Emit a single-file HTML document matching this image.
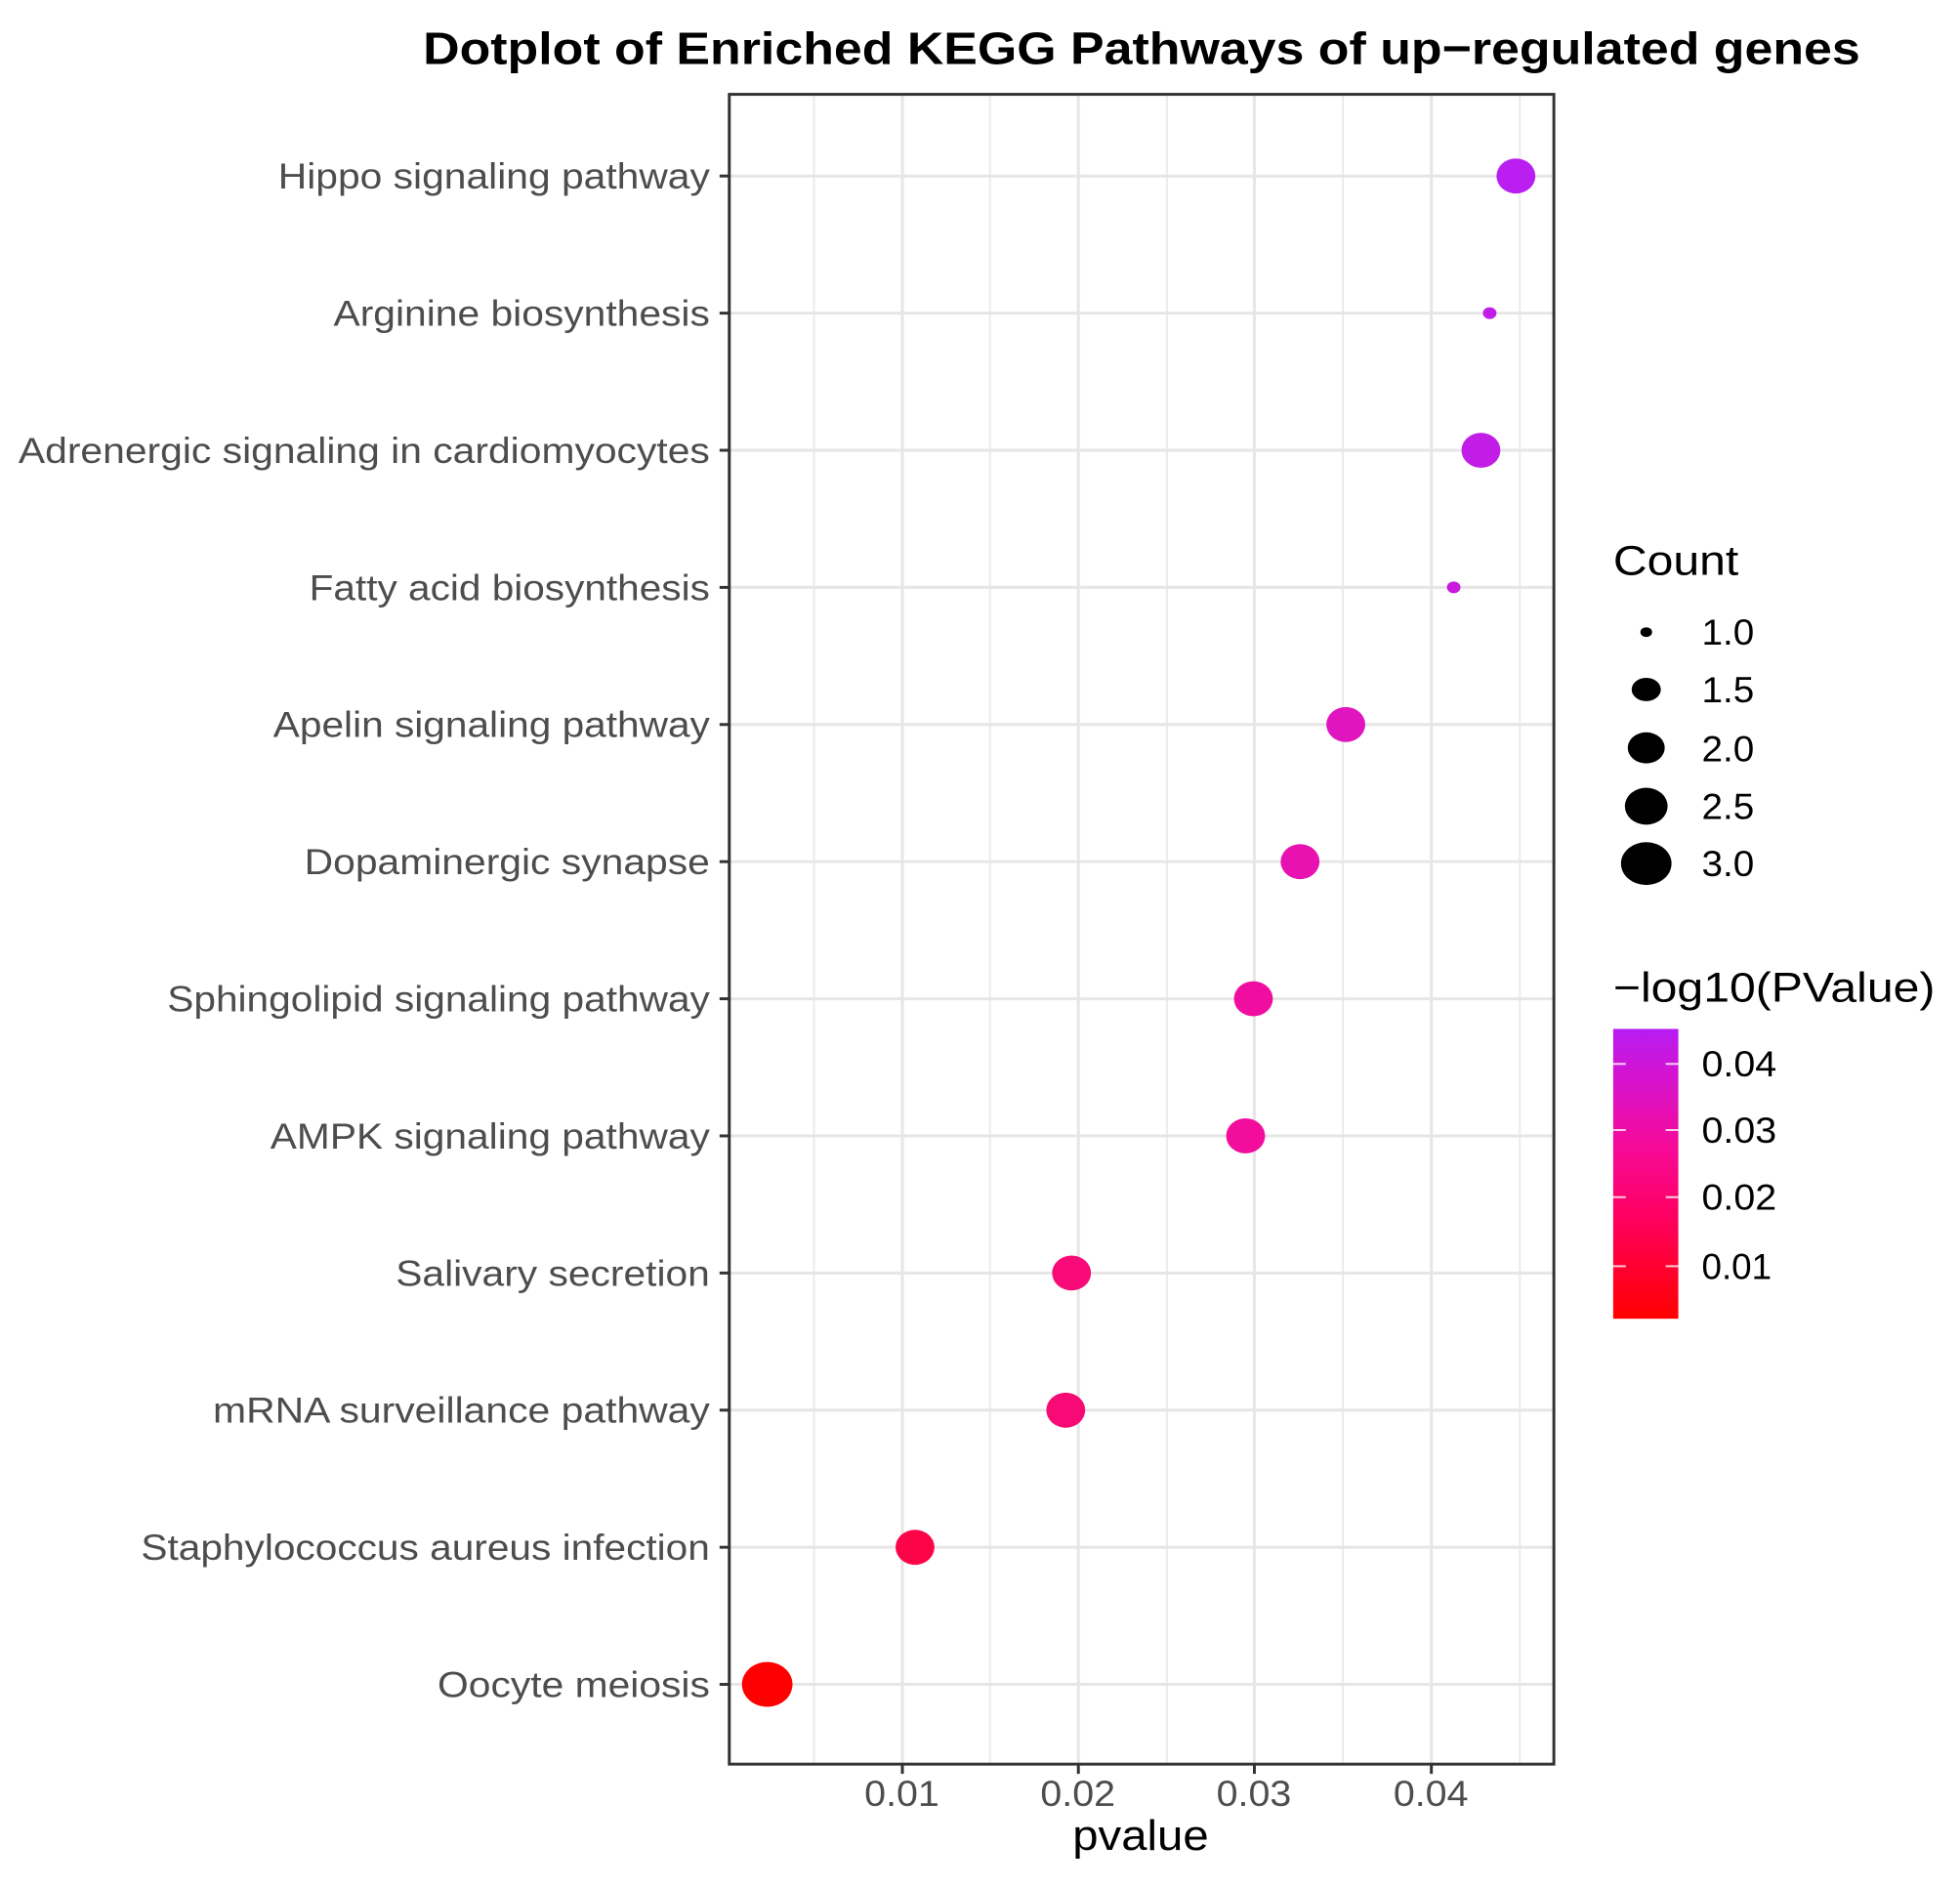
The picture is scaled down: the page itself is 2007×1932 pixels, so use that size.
<!DOCTYPE html>
<html><head><meta charset="utf-8"><style>
html,body{margin:0;padding:0;background:#fff}
svg{display:block}
text{font-family:"Liberation Sans",Arial,sans-serif}
</style></head><body>
<svg width="2007" height="1932" viewBox="0 0 2007 1932" xmlns="http://www.w3.org/2000/svg">
<defs>
<linearGradient id="cg" x1="0" y1="1" x2="0" y2="0">
<stop offset="0" stop-color="#ff0000"/>
<stop offset="0.35" stop-color="#ff0060"/>
<stop offset="0.6" stop-color="#f50a9a"/>
<stop offset="0.85" stop-color="#d214d2"/>
<stop offset="1" stop-color="#b71cf2"/>
</linearGradient>
</defs>
<rect width="2007" height="1932" fill="#fff"/>
<g transform="scale(0.9957)">
<text x="435" y="66" font-size="47" font-weight="bold" fill="#000" textLength="1478" lengthAdjust="spacingAndGlyphs">Dotplot of Enriched KEGG Pathways of up−regulated genes</text>
<g stroke="#ebebeb" stroke-width="2">
<line x1="837" y1="97" x2="837" y2="1814"/><line x1="1018" y1="97" x2="1018" y2="1814"/><line x1="1200" y1="97" x2="1200" y2="1814"/><line x1="1381" y1="97" x2="1381" y2="1814"/><line x1="1563" y1="97" x2="1563" y2="1814"/>
</g>
<g stroke="#e6e6e6" stroke-width="3">
<line x1="928" y1="97" x2="928" y2="1814"/><line x1="1109" y1="97" x2="1109" y2="1814"/><line x1="1290" y1="97" x2="1290" y2="1814"/><line x1="1472" y1="97" x2="1472" y2="1814"/>
<line x1="750" y1="181" x2="1598" y2="181"/><line x1="750" y1="322" x2="1598" y2="322"/><line x1="750" y1="463" x2="1598" y2="463"/><line x1="750" y1="604" x2="1598" y2="604"/><line x1="750" y1="745" x2="1598" y2="745"/><line x1="750" y1="886" x2="1598" y2="886"/><line x1="750" y1="1027" x2="1598" y2="1027"/><line x1="750" y1="1168" x2="1598" y2="1168"/><line x1="750" y1="1309" x2="1598" y2="1309"/><line x1="750" y1="1450" x2="1598" y2="1450"/><line x1="750" y1="1591" x2="1598" y2="1591"/><line x1="750" y1="1732" x2="1598" y2="1732"/>
</g>
<ellipse cx="1559" cy="181" rx="20" ry="18" fill="#bb1ef0"/>
<ellipse cx="1532" cy="322" rx="7" ry="6" fill="#c01de8"/>
<ellipse cx="1523" cy="463" rx="20" ry="18" fill="#c21de6"/>
<ellipse cx="1495" cy="604" rx="7" ry="6" fill="#c81bde"/>
<ellipse cx="1384" cy="745" rx="20" ry="18" fill="#e015c0"/>
<ellipse cx="1337" cy="886" rx="20" ry="18" fill="#e812b0"/>
<ellipse cx="1289" cy="1027" rx="20" ry="18" fill="#f00ea0"/>
<ellipse cx="1281" cy="1168" rx="20" ry="18" fill="#f20d9c"/>
<ellipse cx="1102" cy="1309" rx="20" ry="18" fill="#f80a78"/>
<ellipse cx="1096" cy="1450" rx="20" ry="18" fill="#f80a76"/>
<ellipse cx="941" cy="1591" rx="20" ry="18" fill="#fc0548"/>
<ellipse cx="789" cy="1732" rx="26" ry="23" fill="#ff0000"/>
<rect x="750" y="97" width="848" height="1717" fill="none" stroke="#333" stroke-width="3"/>
<g stroke="#333" stroke-width="3">
<line x1="740" y1="181" x2="750" y2="181"/><line x1="740" y1="322" x2="750" y2="322"/><line x1="740" y1="463" x2="750" y2="463"/><line x1="740" y1="604" x2="750" y2="604"/><line x1="740" y1="745" x2="750" y2="745"/><line x1="740" y1="886" x2="750" y2="886"/><line x1="740" y1="1027" x2="750" y2="1027"/><line x1="740" y1="1168" x2="750" y2="1168"/><line x1="740" y1="1309" x2="750" y2="1309"/><line x1="740" y1="1450" x2="750" y2="1450"/><line x1="740" y1="1591" x2="750" y2="1591"/><line x1="740" y1="1732" x2="750" y2="1732"/>
<line x1="928" y1="1814" x2="928" y2="1824"/><line x1="1109" y1="1814" x2="1109" y2="1824"/><line x1="1290" y1="1814" x2="1290" y2="1824"/><line x1="1472" y1="1814" x2="1472" y2="1824"/>
</g>
<g font-size="37" fill="#4d4d4d" lengthAdjust="spacingAndGlyphs">
<text x="286" y="194" textLength="444" lengthAdjust="spacingAndGlyphs">Hippo signaling pathway</text>
<text x="343" y="335" textLength="387" lengthAdjust="spacingAndGlyphs">Arginine biosynthesis</text>
<text x="19" y="476" textLength="711" lengthAdjust="spacingAndGlyphs">Adrenergic signaling in cardiomyocytes</text>
<text x="318" y="617" textLength="412" lengthAdjust="spacingAndGlyphs">Fatty acid biosynthesis</text>
<text x="281" y="758" textLength="449" lengthAdjust="spacingAndGlyphs">Apelin signaling pathway</text>
<text x="313" y="899" textLength="417" lengthAdjust="spacingAndGlyphs">Dopaminergic synapse</text>
<text x="172" y="1040" textLength="558" lengthAdjust="spacingAndGlyphs">Sphingolipid signaling pathway</text>
<text x="278" y="1181" textLength="452" lengthAdjust="spacingAndGlyphs">AMPK signaling pathway</text>
<text x="407" y="1322" textLength="323" lengthAdjust="spacingAndGlyphs">Salivary secretion</text>
<text x="219" y="1463" textLength="511" lengthAdjust="spacingAndGlyphs">mRNA surveillance pathway</text>
<text x="145" y="1604" textLength="585" lengthAdjust="spacingAndGlyphs">Staphylococcus aureus infection</text>
<text x="450" y="1745" textLength="280" lengthAdjust="spacingAndGlyphs">Oocyte meiosis</text>
</g>
<g font-size="37" fill="#4d4d4d">
<text x="889" y="1857" textLength="77" lengthAdjust="spacingAndGlyphs">0.01</text><text x="1070" y="1857" textLength="77" lengthAdjust="spacingAndGlyphs">0.02</text><text x="1251" y="1857" textLength="77" lengthAdjust="spacingAndGlyphs">0.03</text><text x="1433" y="1857" textLength="77" lengthAdjust="spacingAndGlyphs">0.04</text>
</g>
<text x="1103" y="1902" font-size="44" fill="#000" textLength="140" lengthAdjust="spacingAndGlyphs">pvalue</text>
<text x="1659" y="591" font-size="43" fill="#000" textLength="129" lengthAdjust="spacingAndGlyphs">Count</text>
<ellipse cx="1693" cy="650" rx="6" ry="5" fill="#000"/>
<ellipse cx="1693" cy="709" rx="15" ry="12" fill="#000"/>
<ellipse cx="1693" cy="769" rx="19" ry="16" fill="#000"/>
<ellipse cx="1693" cy="829" rx="22" ry="19" fill="#000"/>
<ellipse cx="1693" cy="888" rx="26" ry="22" fill="#000"/>
<g font-size="37" fill="#000">
<text x="1750" y="663" textLength="54" lengthAdjust="spacingAndGlyphs">1.0</text><text x="1750" y="722" textLength="54" lengthAdjust="spacingAndGlyphs">1.5</text><text x="1750" y="783" textLength="54" lengthAdjust="spacingAndGlyphs">2.0</text><text x="1750" y="842" textLength="54" lengthAdjust="spacingAndGlyphs">2.5</text><text x="1750" y="901" textLength="54" lengthAdjust="spacingAndGlyphs">3.0</text>
</g>
<text x="1659" y="1030" font-size="43" fill="#000" textLength="331" lengthAdjust="spacingAndGlyphs">−log10(PValue)</text>
<rect x="1659" y="1058" width="67" height="298" fill="url(#cg)"/>
<g stroke="#fff" stroke-width="2" opacity="0.8">
<line x1="1659" y1="1094" x2="1672" y2="1094"/><line x1="1713" y1="1094" x2="1726" y2="1094"/>
<line x1="1659" y1="1162" x2="1672" y2="1162"/><line x1="1713" y1="1162" x2="1726" y2="1162"/>
<line x1="1659" y1="1231" x2="1672" y2="1231"/><line x1="1713" y1="1231" x2="1726" y2="1231"/>
<line x1="1659" y1="1302" x2="1672" y2="1302"/><line x1="1713" y1="1302" x2="1726" y2="1302"/>
</g>
<g font-size="37" fill="#000">
<text x="1750" y="1107" textLength="77" lengthAdjust="spacingAndGlyphs">0.04</text><text x="1750" y="1175" textLength="77" lengthAdjust="spacingAndGlyphs">0.03</text><text x="1750" y="1244" textLength="77" lengthAdjust="spacingAndGlyphs">0.02</text><text x="1750" y="1315" textLength="72" lengthAdjust="spacingAndGlyphs">0.01</text>
</g>
</g>
</svg>
</body></html>
